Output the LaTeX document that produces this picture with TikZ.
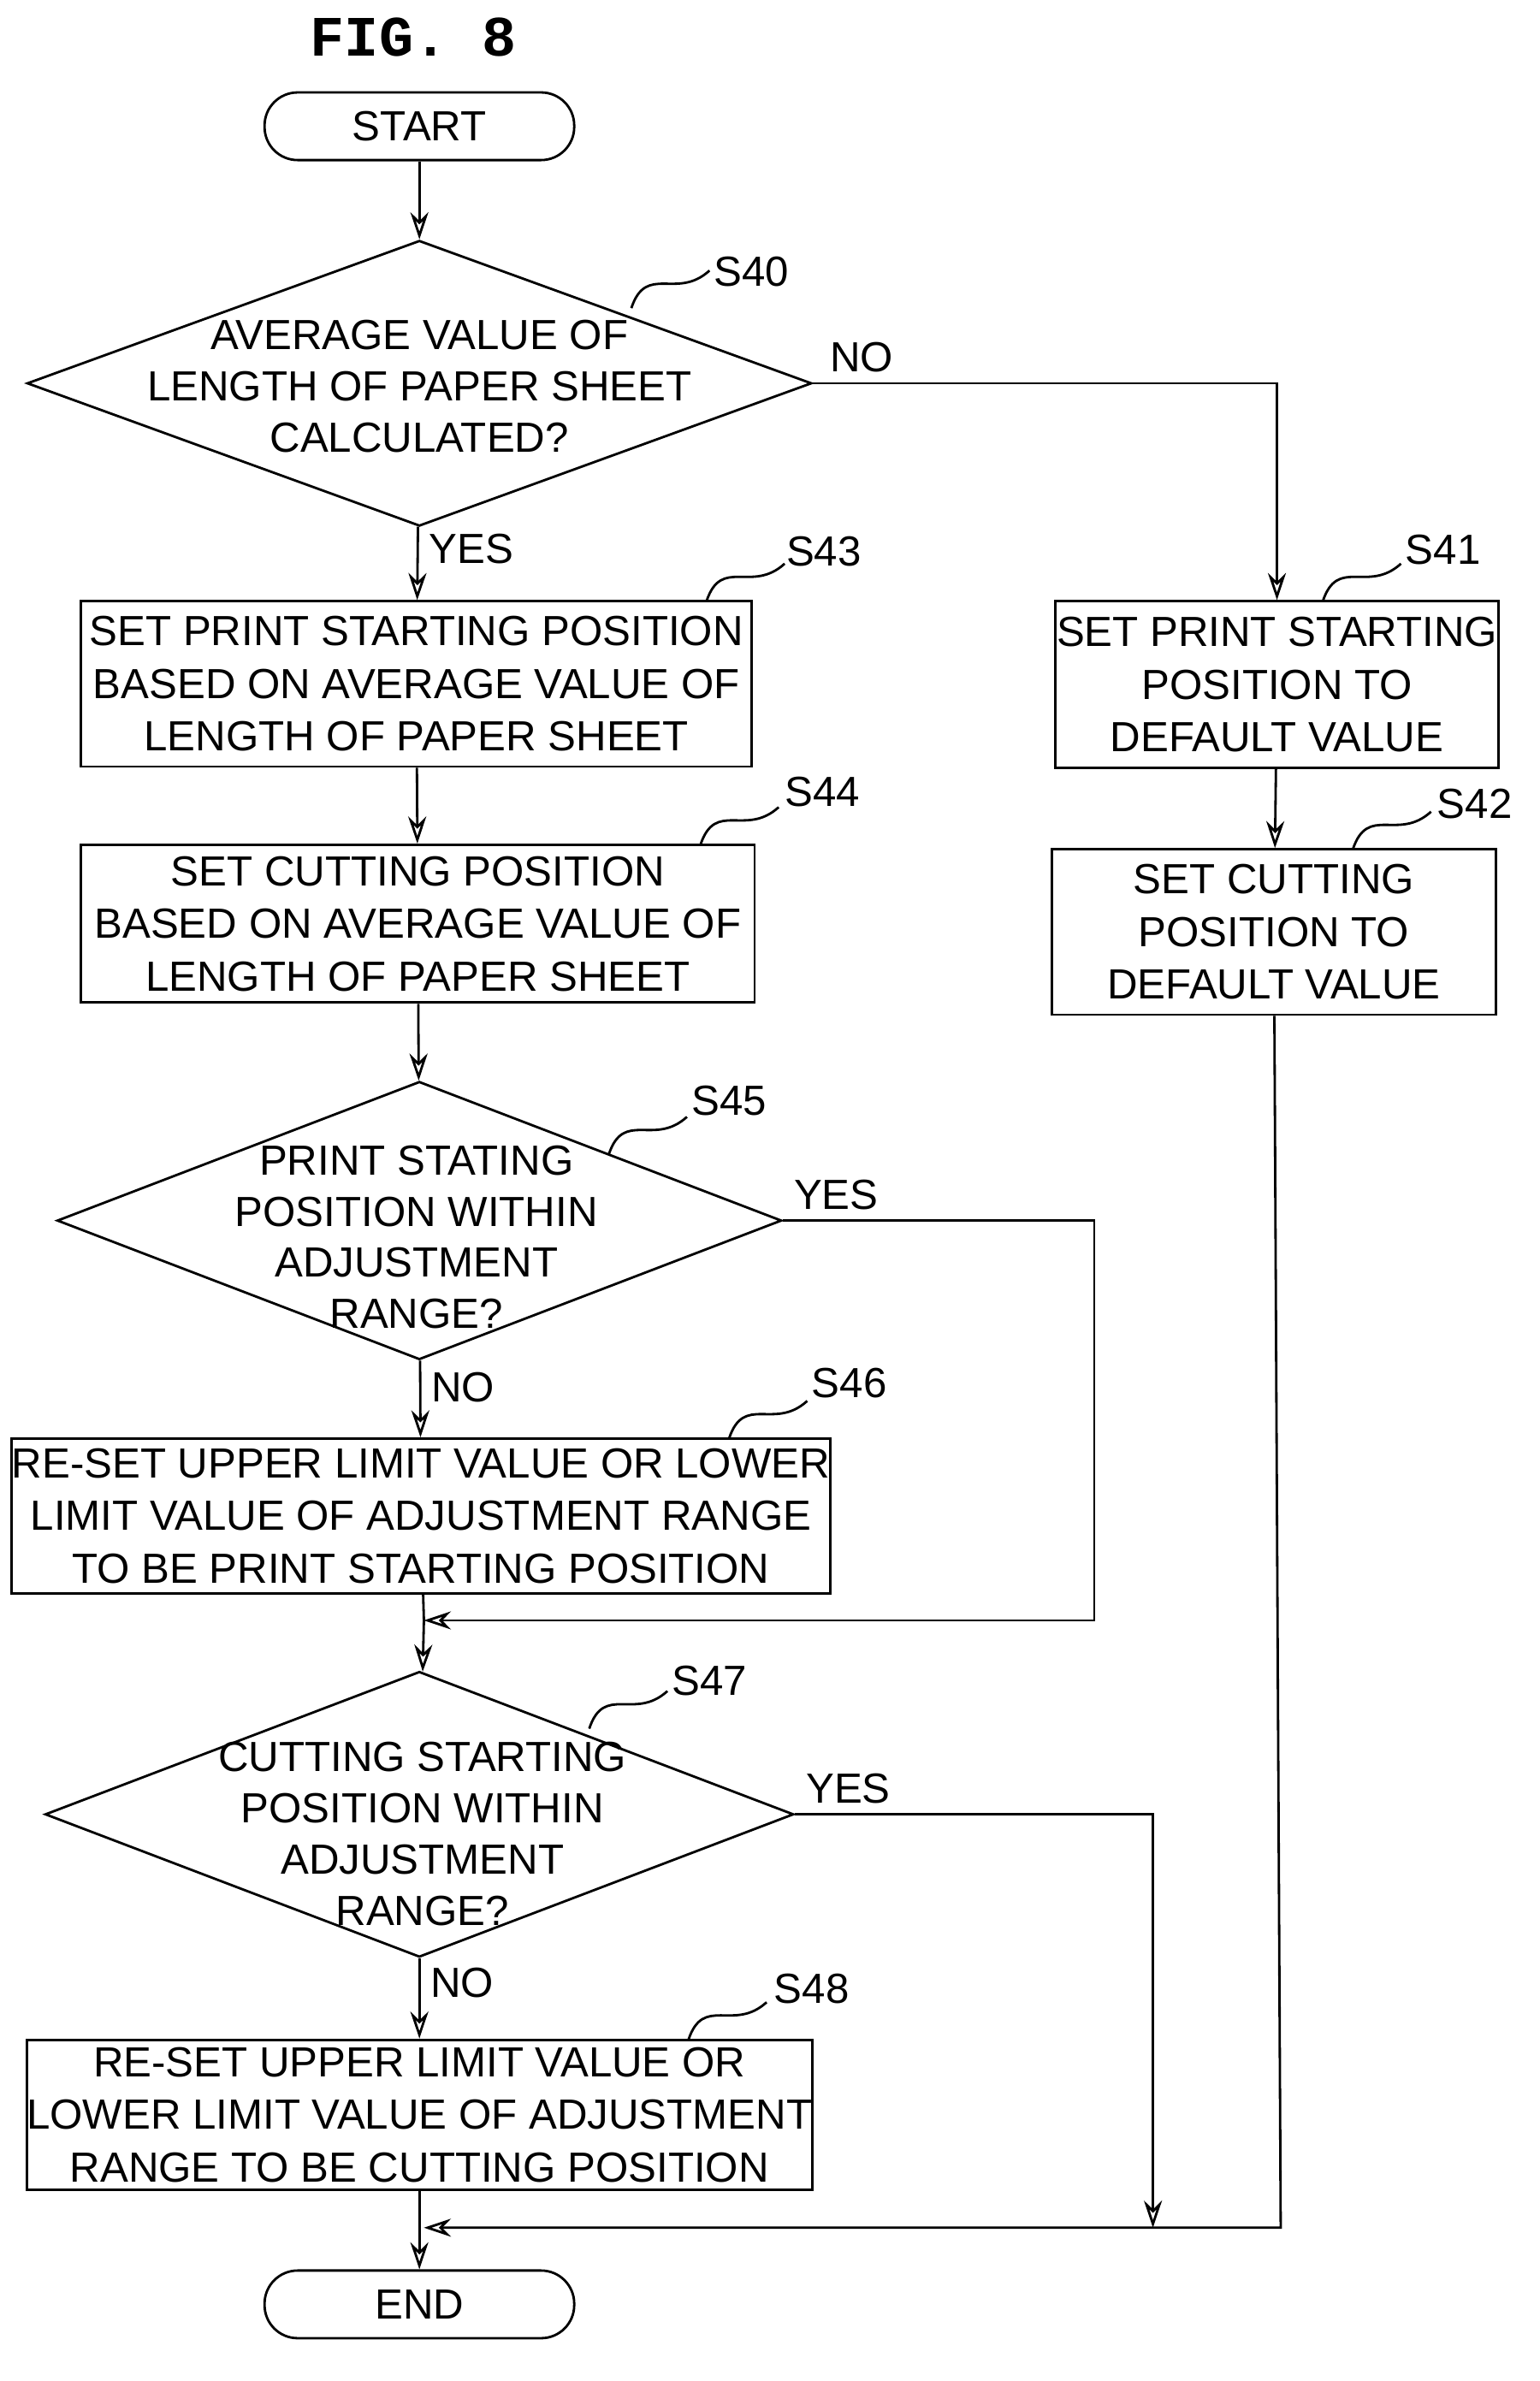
\documentclass[tikz,border=0pt]{standalone}
\usepackage{fontspec}
\setmainfont{Liberation Sans}
\setmonofont{Liberation Mono}
\usetikzlibrary{shapes.geometric,arrows.meta}
\def\u{0.01757cm}
\tikzset{
  box/.style={draw,thick,align=center,inner sep=0pt,font=\fontsize{14}{17.5}\selectfont},
  decision/.style={draw,thick,diamond,align=center,inner sep=0pt,font=\fontsize{14}{17.5}\selectfont},
  term/.style={draw,thick,rounded corners=22*\u,minimum width=206*\u,minimum height=45*\u,font=\fontsize{14}{17}\selectfont},
  flow/.style={thick,-{Stealth[length=9pt,width=6pt,open]}},
  lbl/.style={font=\fontsize{14}{17}\selectfont},
  steplbl/.style={font=\fontsize{14}{17}\selectfont}
}
\begin{document}
\begin{tikzpicture}[x=0.01757cm,y=-0.01757cm]
  \useasboundingbox (0,0) rectangle (1024,1584);
  \node[font=\ttfamily\bfseries\fontsize{19}{22}\selectfont] (title) at (275,25) {FIG. 8};
  %terminals
  \node[term] (start) at (279,84) {START};
  \node[term] (end) at (279,1533) {END};
  %decisions
  \node[decision,minimum width=522*\u,minimum height=190*\u] (s40) at (279,255) {};
  \node[lbl,align=center] at (279,257) {AVERAGE VALUE OF\\LENGTH OF PAPER SHEET\\CALCULATED?};
  \node[decision,minimum width=482*\u,minimum height=185*\u] (s45) at (279,812) {};
  \node[lbl,align=center] at (277,823) {PRINT STATING\\POSITION WITHIN\\ADJUSTMENT\\RANGE?};
  \node[decision,minimum width=498*\u,minimum height=190*\u] (s47) at (279,1207) {};
  \node[lbl,align=center] at (281,1220) {CUTTING STARTING\\POSITION WITHIN\\ADJUSTMENT\\RANGE?};
  %process boxes
  \node[box,minimum width=446*\u,minimum height=110*\u] (s43) at (277,455)
    {SET PRINT STARTING POSITION\\BASED ON AVERAGE VALUE OF\\LENGTH OF PAPER SHEET};
  \node[box,minimum width=448*\u,minimum height=105*\u] (s44) at (278,614.5)
    {SET CUTTING POSITION\\BASED ON AVERAGE VALUE OF\\LENGTH OF PAPER SHEET};
  \node[box,minimum width=295*\u,minimum height=111*\u] (s41) at (849.5,455.5)
    {SET PRINT STARTING\\POSITION TO\\DEFAULT VALUE};
  \node[box,minimum width=295*\u,minimum height=110*\u] (s42) at (847.5,620)
    {SET CUTTING\\POSITION TO\\DEFAULT VALUE};
  \node[box,minimum width=536*\u,minimum height=103*\u] (s46) at (280,1008.5)
    {RE-SET UPPER LIMIT VALUE OR LOWER\\LIMIT VALUE OF ADJUSTMENT RANGE\\TO BE PRINT STARTING POSITION};
  \node[box,minimum width=506*\u,minimum height=100*\u] (s48) at (279,1407)
    {RE-SET UPPER LIMIT VALUE OR\\LOWER LIMIT VALUE OF ADJUSTMENT\\RANGE TO BE CUTTING POSITION};
  %merge points
  \coordinate (m1) at (282,1078);
  \coordinate (m2) at (282,1482);
  %step labels
  \node[steplbl] (l40) at (500,181) {S40};
  \node[steplbl] (l43) at (548,367) {S43};
  \node[steplbl] (l41) at (960,366) {S41};
  \node[steplbl] (l44) at (547,527) {S44};
  \node[steplbl] (l42) at (981,535) {S42};
  \node[steplbl] (l45) at (485,732) {S45};
  \node[steplbl] (l46) at (565,920) {S46};
  \node[steplbl] (l47) at (472,1118) {S47};
  \node[steplbl] (l48) at (540,1323) {S48};
  \foreach \a/\b in {420/205, 470/400, 880/400, 466/562, 900/565, 405/768, 485/957, 392/1150, 458/1357}
    \draw[thick] (\a,\b) .. controls (\a+10,\b-30) and (\a+30,\b-5) .. (\a+52,\b-25);
  %connectors
  \draw[flow] (start) -- (s40);
  \draw[flow] (s40) -- node[lbl,right,pos=0.3] {YES} (s43);
  \draw[flow] (s40.east) node[lbl,above right,xshift=2pt] {NO} -| (s41);
  \draw[flow] (s43) -- (s44);
  \draw[flow] (s41) -- (s42);
  \draw[flow] (s44) -- (s45);
  \draw[flow] (s45) -- node[lbl,right,pos=0.35] {NO} (s46);
  \draw[flow] (s45.east) node[lbl,above right] {YES} -| (728,1078) -- (m1);
  \draw[thick] (s46) -- (m1);
  \draw[flow] (m1) -- (s47);
  \draw[flow] (s47) -- node[lbl,right,pos=0.3] {NO} (s48);
  \draw[flow] (s47.east) node[lbl,above right] {YES} -| (767,1482);
  \draw[flow] (s42) -- (852,1482) -- (m2);
  \draw[flow] (s48) -- (end);
\end{tikzpicture}
\end{document}
